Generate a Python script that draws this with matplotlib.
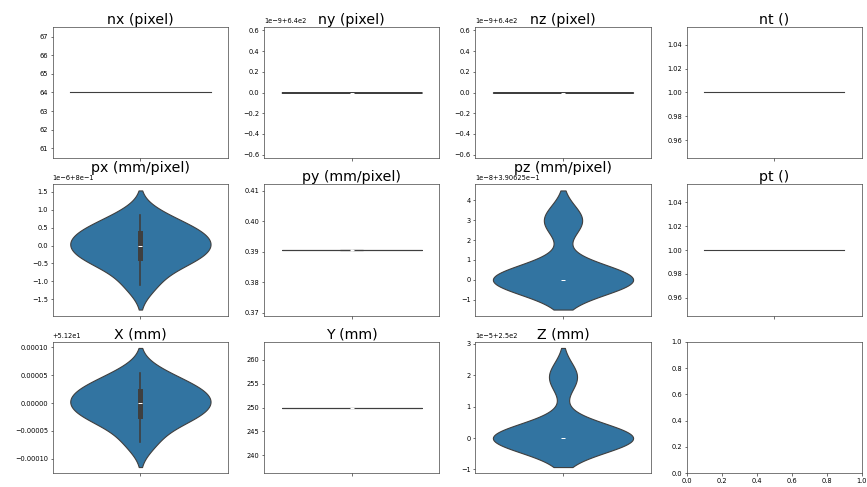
import numpy as np
import matplotlib
matplotlib.use("Agg")
import matplotlib.pyplot as plt
from matplotlib.ticker import MaxNLocator
import seaborn as sns

titles = ["nx (pixel)", "ny (pixel)", "nz (pixel)", "nt ()",
          "px (mm/pixel)", "py (mm/pixel)", "pz (mm/pixel)", "pt ()",
          "X (mm)", "Y (mm)", "Z (mm)"]

# image size (pixels), all volumes identical
nx = [64, 64, 64, 64, 64, 64, 64, 64, 64, 64, 64, 64, 64, 64]
ny = [640.0, 640.0, 640.0, 640.0, 640.0, 640.0, 640.0,
      640.0, 640.0, 640.0, 640.0, 640.0, 640.0000000000001, 640.0000000000001]
nz = [640.0, 640.0, 640.0, 640.0, 640.0, 640.0, 640.0,
      640.0, 640.0, 640.0, 640.0, 640.0, 640.0000000000001, 640.0000000000001]
nt = [1, 1, 1, 1, 1, 1, 1, 1, 1, 1, 1, 1, 1, 1]

# pixel spacing (mm/pixel)
px = [0.7999989, 0.7999994, 0.79999965, 0.79999965, 0.7999999, 0.8,
      0.8000001, 0.80000035, 0.80000035, 0.80000055, 0.80000085]
py = [0.390625, 0.390625, 0.390625, 0.390625, 0.390625, 0.390625, 0.390625,
      0.390625, 0.390625, 0.390625, 0.390625, 0.390625,
      0.3906250000000001, 0.3906250000000001]
pz = [0.390625, 0.390625, 0.390625, 0.390625, 0.390625, 0.390625, 0.390625,
      0.390625, 0.390625, 0.390625, 0.390625,
      0.39062503, 0.39062503, 0.39062503]
pt = [1, 1, 1, 1, 1, 1, 1, 1, 1, 1, 1, 1, 1, 1]

# field of view (mm)
X = [51.1999296, 51.1999616, 51.1999776, 51.1999776, 51.1999936, 51.2,
     51.2000064, 51.2000224, 51.2000224, 51.2000352, 51.2000544]
Y = [250.0, 250.0, 250.0, 250.0, 250.0, 250.0, 250.0,
     250.0, 250.0, 250.0, 250.0, 250.0, 250.00000000000003, 250.00000000000003]
Z = [250.0, 250.0, 250.0, 250.0, 250.0, 250.0, 250.0,
     250.0, 250.0, 250.0, 250.0000195, 250.0000195]

columns = [nx, ny, nz, nt, px, py, pz, pt, X, Y, Z]

fig, axes = plt.subplots(3, 4, figsize=(8.67, 4.87), dpi=100)
fig.subplots_adjust(left=0.0608, right=0.9942, top=0.9446, bottom=0.0287,
                    wspace=0.205, hspace=0.202)

for ax, title, values in zip(axes.flat, titles, columns):
    ax.yaxis.set_major_locator(MaxNLocator(nbins=8, steps=[1, 2, 2.5, 5, 10]))
    sns.violinplot(y=values, ax=ax, linewidth=0.8)
    ax.set_title(title, fontsize=10.2, pad=2.5)

# near-constant columns: keep the same y ranges as the original figure
for ax, values in [(axes[0, 1], ny), (axes[0, 2], nz)]:
    mid = np.median(values)
    ax.set_ylim(mid * (1 - 0.99e-12), mid * (1 + 0.99e-12))
mid = np.median(Y)
axes[2, 1].set_ylim(mid * 0.945, mid * 1.055)

for ax in axes.flat:
    ax.tick_params(labelsize=4.8, length=1.8, width=0.4, pad=1.6)
    ax.yaxis.get_offset_text().set_fontsize(4.8)
    for s in ax.spines.values():
        s.set_linewidth(0.5)
        s.set_color("#444444")

fig.savefig("out.png", dpi=100)
